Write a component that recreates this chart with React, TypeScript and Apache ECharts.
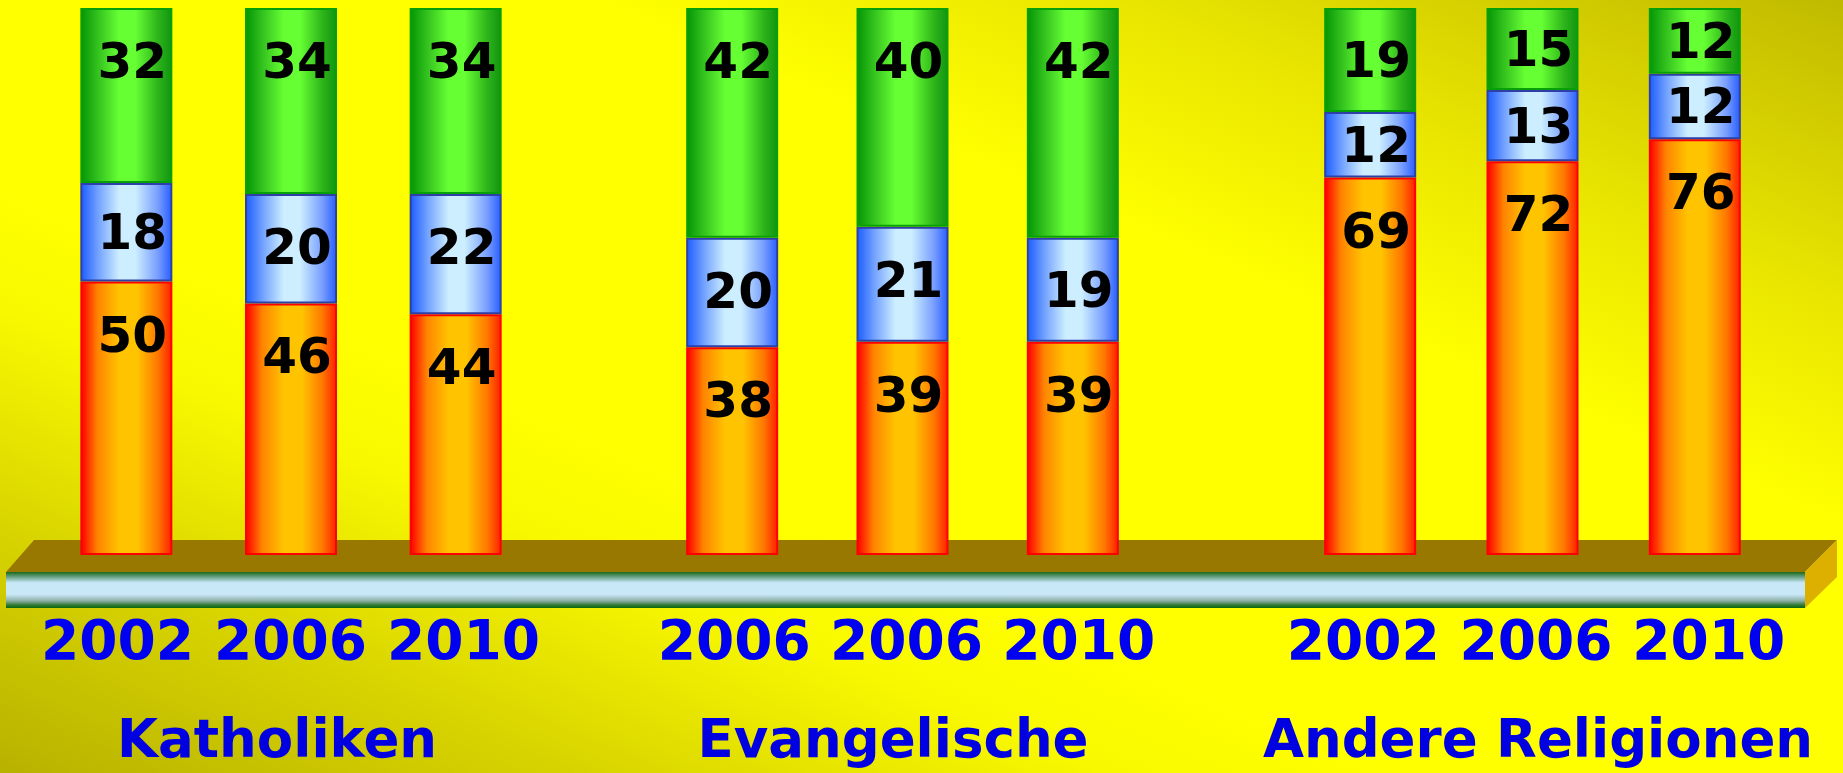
import React, { useEffect, useRef } from 'react';
import * as echarts from 'echarts';

// ---------- data ----------
const groupNames = ['Katholiken', 'Evangelische', 'Andere Religionen'];
const katholikenYears = ['2002', '2006', '2010'];
const evangelischeYears = ['2006', '2006', '2010'];
const andereYears = ['2002', '2006', '2010'];
const groupYears = [katholikenYears, evangelischeYears, andereYears];

// bottom (orange), middle (blue), top (green) segments, per group
const orangeValues = [[50, 46, 44], [38, 39, 39], [69, 72, 76]];
const blueValues = [[18, 20, 22], [20, 21, 19], [12, 13, 12]];
const greenValues = [[32, 34, 34], [42, 40, 42], [19, 15, 12]];

// ---------- layout / style ----------
const W = 1843;
const H = 773;
const PLOT_TOP = 8;
const PLOT_BOTTOM = 555;
const PLOT_H = PLOT_BOTTOM - PLOT_TOP;
const Y_MAX = 100;
const FONT = '"DejaVu Sans", Verdana, sans-serif';

const barGrids = [
  { left: 44, width: 494 },
  { left: 647, width: 511 },
  { left: 1289, width: 487 },
];
const labelGrids = [
  { left: 31, width: 519 },
  { left: 648, width: 517 },
  { left: 1277, width: 518 },
];
const namePadding = [
  [0, 27, 0, 0],
  [0, 27, 0, 0],
  [0, 0, 0, 4],
];

const hGrad = (stops: [number, string][]) =>
  new echarts.graphic.LinearGradient(0, 0, 1, 0, stops.map(([offset, color]) => ({ offset, color })));

const layers = [
  {
    name: 'unten',
    values: orangeValues,
    fill: () =>
      hGrad([
        [0, '#FF0000'],
        [0.18, '#FF8400'],
        [0.42, '#FFC300'],
        [0.62, '#FFC400'],
        [0.85, '#FF7800'],
        [1, '#FF2200'],
      ]),
    border: '#FF0000',
  },
  {
    name: 'mitte',
    values: blueValues,
    fill: () =>
      hGrad([
        [0, '#1E5EFF'],
        [0.2, '#78A6FF'],
        [0.42, '#CCEEFF'],
        [0.6, '#CCEEFF'],
        [0.85, '#789EFF'],
        [1, '#2A60FF'],
      ]),
    border: '#2E40A8',
  },
  {
    name: 'oben',
    values: greenValues,
    fill: () =>
      hGrad([
        [0, '#069606'],
        [0.22, '#3CCB22'],
        [0.42, '#66FF33'],
        [0.6, '#66FF33'],
        [0.85, '#2EB41A'],
        [1, '#119611'],
      ]),
    border: '#08A008',
  },
];

const labelY = (v: number) => Math.min((v * PLOT_H) / Y_MAX / 2, 53);

export default function App() {
  const ref = useRef<HTMLDivElement>(null);

  useEffect(() => {
    document.body.style.margin = '0';
    if (!ref.current) return;
    const chart = echarts.init(ref.current, undefined, { renderer: 'svg' });

    const grids: any[] = [];
    const xAxes: any[] = [];
    const yAxes: any[] = [];
    const series: any[] = [];

    barGrids.forEach((g, gi) => {
      grids.push({ left: g.left, width: g.width, top: PLOT_TOP, bottom: H - PLOT_BOTTOM, containLabel: false });
      xAxes.push({
        type: 'category',
        gridIndex: gi,
        data: groupYears[gi],
        axisLine: { show: false },
        axisTick: { show: false },
        axisLabel: { show: false },
        splitLine: { show: false },
      });
      yAxes.push({ type: 'value', gridIndex: gi, min: 0, max: Y_MAX, show: false, splitLine: { show: false } });
    });

    labelGrids.forEach((g, i) => {
      const gi = i + 3;
      grids.push({ left: g.left, width: g.width, top: PLOT_TOP, bottom: H - 600, containLabel: false });
      xAxes.push({
        type: 'category',
        gridIndex: gi,
        data: groupYears[i],
        axisLine: { show: false },
        axisTick: { show: false },
        splitLine: { show: false },
        axisLabel: {
          show: true,
          interval: 0,
          margin: 19,
          fontFamily: FONT,
          fontWeight: 'bold',
          fontSize: 55,
          lineHeight: 60,
          color: '#0000F0',
        },
        name: groupNames[i],
        nameLocation: 'middle',
        nameGap: 117,
        nameTextStyle: {
          fontFamily: FONT,
          fontWeight: 'bold',
          fontSize: 53,
          lineHeight: 60,
          color: '#0000E0',
          padding: namePadding[i],
        },
      });
      yAxes.push({ type: 'value', gridIndex: gi, min: 0, max: Y_MAX, show: false });
    });

    barGrids.forEach((_, gi) => {
      layers.forEach((layer) => {
        series.push({
          type: 'bar',
          name: layer.name,
          xAxisIndex: gi,
          yAxisIndex: gi,
          stack: 'gruppe' + gi,
          barWidth: 92,
          z: 3,
          itemStyle: { color: layer.fill(), borderColor: layer.border, borderWidth: 2 },
          label: {
            show: true,
            align: 'center',
            verticalAlign: 'middle',
            fontFamily: FONT,
            fontWeight: 'bold',
            fontSize: 50,
            color: '#000000',
          },
          data: layer.values[gi].map((v) => ({ value: v, label: { position: [52, labelY(v)] } })),
        });
      });
    });

    const tubeGrad = new echarts.graphic.LinearGradient(0, 0, 0, 1, [
      { offset: 0, color: '#1A6A1A' },
      { offset: 0.12, color: '#5E9A78' },
      { offset: 0.3, color: '#C8E8F8' },
      { offset: 0.62, color: '#C8E8F8' },
      { offset: 0.8, color: '#8EB0A6' },
      { offset: 0.92, color: '#2E7A32' },
      { offset: 1, color: '#0C660E' },
    ]);

    chart.setOption({
      animation: false,
      backgroundColor: 'transparent',
      grid: grids,
      xAxis: xAxes,
      yAxis: yAxes,
      series,
      graphic: [
        {
          type: 'polygon',
          z: 0,
          silent: true,
          shape: { points: [[6, 572], [34, 540], [1837, 540], [1805, 572]] },
          style: { fill: '#987800' },
        },
        {
          type: 'polygon',
          z: 0,
          silent: true,
          shape: { points: [[1805, 572], [1837, 540], [1837, 577], [1805, 608]] },
          style: { fill: '#DDB000' },
        },
        {
          type: 'rect',
          z: 0,
          silent: true,
          shape: { x: 6, y: 572, width: 1799, height: 36 },
          style: { fill: tubeGrad },
        },
      ],
    });

    return () => chart.dispose();
  }, []);

  return (
    <div
      ref={ref}
      style={{
        width: W,
        height: H,
        background:
          'linear-gradient(to top right, #B8B200 0%, #D8D400 16%, #F8F800 30%, #FFFF00 38%, #FFFF00 66%, #EAE600 80%, #C0BA00 100%)',
      }}
    />
  );
}
